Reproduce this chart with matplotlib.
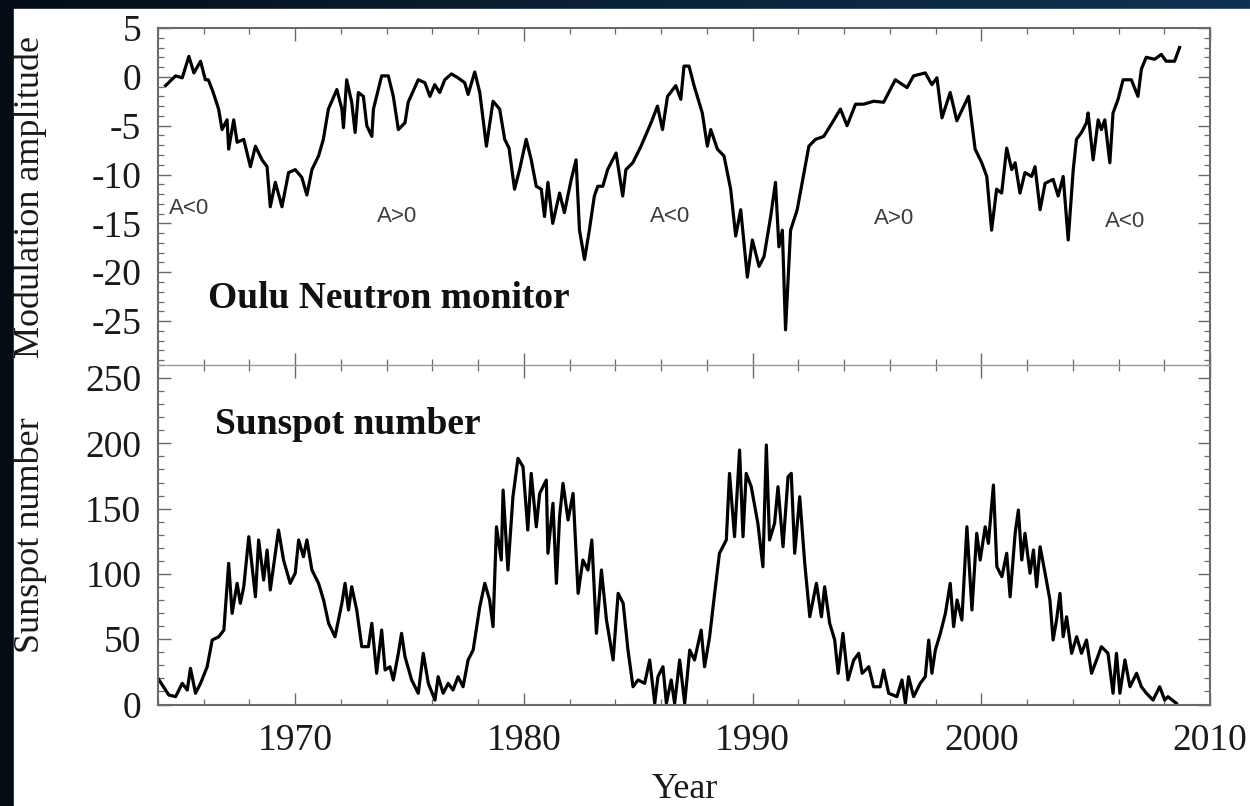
#!/usr/bin/env python3
import numpy as np
import matplotlib
matplotlib.use("Agg")
import matplotlib.pyplot as plt
from matplotlib.patches import Rectangle
from matplotlib.ticker import MultipleLocator

# Oulu neutron monitor modulation amplitude (%)
mod_year = [
    1964.33, 1964.77, 1965.06, 1965.35, 1965.57, 1965.86, 1966.07, 1966.2, 1966.4,
    1966.65, 1966.8, 1967.02, 1967.09, 1967.31, 1967.46, 1967.75, 1968.04, 1968.26,
    1968.55, 1968.77, 1968.91, 1969.13, 1969.42, 1969.71, 1970.0, 1970.29, 1970.51,
    1970.73, 1971.02, 1971.23, 1971.45, 1971.82, 1972.04, 1972.11, 1972.25, 1972.47,
    1972.62, 1972.76, 1972.98, 1973.13, 1973.35, 1973.42, 1973.78, 1974.07, 1974.29,
    1974.51, 1974.8, 1974.94, 1975.38, 1975.67, 1975.89, 1976.1, 1976.32, 1976.54,
    1976.83, 1977.12, 1977.41, 1977.56, 1977.85, 1978.07, 1978.36, 1978.65, 1978.94,
    1979.16, 1979.35, 1979.59, 1979.81, 1980.1, 1980.32, 1980.54, 1980.76, 1980.9,
    1981.05, 1981.26, 1981.56, 1981.77, 1982.07, 1982.28, 1982.43, 1982.65, 1982.86,
    1983.08, 1983.23, 1983.45, 1983.66, 1984.03, 1984.32, 1984.46, 1984.76, 1985.12,
    1985.56, 1985.84, 1986.06, 1986.28, 1986.64, 1986.86, 1987.0, 1987.22, 1987.44,
    1987.8, 1988.02, 1988.17, 1988.46, 1988.75, 1989.04, 1989.26, 1989.48, 1989.77,
    1989.99, 1990.28, 1990.5, 1990.79, 1991.0, 1991.15, 1991.3, 1991.44, 1991.66,
    1991.95, 1992.17, 1992.46, 1992.75, 1993.11, 1993.48, 1993.84, 1994.13, 1994.5,
    1994.86, 1995.29, 1995.73, 1996.24, 1996.75, 1997.04, 1997.55, 1997.84, 1998.06,
    1998.28, 1998.64, 1998.93, 1999.44, 1999.73, 2000.02, 2000.24, 2000.45, 2000.67,
    2000.89, 2001.11, 2001.33, 2001.48, 2001.69, 2001.91, 2002.2, 2002.35, 2002.57,
    2002.79, 2003.14, 2003.36, 2003.58, 2003.8, 2004.02, 2004.16, 2004.38, 2004.6,
    2004.67, 2004.89, 2005.11, 2005.25, 2005.4, 2005.62, 2005.76, 2005.98, 2006.2,
    2006.56, 2006.85, 2007.0, 2007.21, 2007.58, 2007.87, 2008.08, 2008.45, 2008.67,
]
mod_val = [
    -0.9, 0.1, -0.1, 2.1, 0.4, 1.6, -0.3, -0.3, -1.5,
    -3.3, -5.4, -4.4, -7.4, -4.4, -6.7, -6.4, -9.2, -7.1,
    -8.5, -9.2, -13.3, -10.8, -13.3, -9.8, -9.5, -10.3, -12.1,
    -9.5, -8.1, -6.4, -3.3, -1.3, -3.3, -5.2, -0.3, -2.6,
    -5.7, -1.6, -2.0, -5.0, -6.1, -3.3, 0.1, 0.1, -2.0,
    -5.4, -4.7, -2.6, -0.3, -0.6, -2.0, -0.8, -1.6, -0.3,
    0.3, -0.1, -0.6, -1.8, 0.5, -1.6, -7.1, -2.5, -3.3,
    -6.4, -7.3, -11.5, -9.5, -6.4, -8.5, -11.2, -11.5, -14.3,
    -10.8, -15.0, -11.9, -13.9, -10.5, -8.5, -15.7, -18.7, -15.7,
    -12.2, -11.2, -11.2, -9.5, -7.8, -12.2, -9.5, -8.8, -7.1,
    -4.7, -3.0, -5.4, -2.0, -0.9, -2.3, 1.1, 1.1, -0.9,
    -3.7, -7.1, -5.4, -7.4, -8.1, -11.5, -16.3, -13.6, -20.5,
    -16.7, -19.4, -18.4, -14.3, -10.8, -17.4, -15.7, -25.9, -15.7,
    -13.6, -10.8, -7.1, -6.4, -6.1, -4.7, -3.3, -5.0, -2.8,
    -2.8, -2.5, -2.6, -0.3, -1.1, 0.1, 0.4, -0.8, -0.1,
    -4.2, -1.6, -4.5, -2.0, -7.4, -8.8, -10.2, -15.7, -11.5,
    -11.9, -7.3, -9.5, -8.8, -11.9, -9.8, -10.2, -9.2, -13.6,
    -10.9, -10.5, -12.2, -10.2, -16.7, -9.5, -6.4, -5.7, -4.7,
    -3.7, -8.5, -4.4, -5.4, -4.4, -8.8, -3.7, -2.3, -0.3,
    -0.3, -2.0, 0.8, 2.0, 1.8, 2.3, 1.6, 1.6, 3.0,
]

# monthly sunspot number
ssn_year = [
    1964.0, 1964.47, 1964.77, 1965.06, 1965.28, 1965.42, 1965.64, 1965.86, 1966.15,
    1966.37, 1966.66, 1966.88, 1967.09, 1967.24, 1967.46, 1967.6, 1967.75, 1967.97,
    1968.26, 1968.4, 1968.62, 1968.77, 1968.91, 1969.13, 1969.27, 1969.49, 1969.78,
    1970.0, 1970.15, 1970.36, 1970.51, 1970.73, 1971.02, 1971.24, 1971.46, 1971.74,
    1972.04, 1972.18, 1972.33, 1972.47, 1972.69, 1972.91, 1973.2, 1973.35, 1973.56,
    1973.78, 1973.93, 1974.14, 1974.29, 1974.51, 1974.65, 1974.8, 1975.09, 1975.38,
    1975.6, 1975.82, 1976.11, 1976.25, 1976.47, 1976.69, 1976.9, 1977.12, 1977.34,
    1977.56, 1977.78, 1978.07, 1978.29, 1978.5, 1978.65, 1978.8, 1979.01, 1979.09,
    1979.3, 1979.52, 1979.74, 1979.96, 1980.17, 1980.32, 1980.54, 1980.69, 1980.98,
    1981.05, 1981.27, 1981.42, 1981.56, 1981.71, 1981.93, 1982.15, 1982.37, 1982.58,
    1982.8, 1982.97, 1983.17, 1983.39, 1983.61, 1983.9, 1984.12, 1984.34, 1984.55,
    1984.77, 1984.99, 1985.28, 1985.5, 1985.72, 1985.86, 1986.08, 1986.23, 1986.44,
    1986.59, 1986.81, 1987.03, 1987.25, 1987.46, 1987.75, 1987.9, 1988.12, 1988.34,
    1988.55, 1988.85, 1988.99, 1989.21, 1989.43, 1989.58, 1989.72, 1989.94, 1990.23,
    1990.45, 1990.6, 1990.74, 1990.96, 1991.11, 1991.33, 1991.55, 1991.69, 1991.84,
    1992.06, 1992.28, 1992.5, 1992.79, 1993.01, 1993.15, 1993.37, 1993.59, 1993.74,
    1993.95, 1994.17, 1994.42, 1994.64, 1994.79, 1995.08, 1995.29, 1995.58, 1995.73,
    1995.95, 1996.31, 1996.53, 1996.68, 1996.82, 1997.04, 1997.33, 1997.55, 1997.7,
    1997.84, 1997.99, 1998.21, 1998.43, 1998.64, 1998.79, 1998.94, 1999.15, 1999.37,
    1999.59, 1999.8, 1999.95, 2000.17, 2000.31, 2000.53, 2000.68, 2000.9, 2001.11,
    2001.26, 2001.48, 2001.62, 2001.77, 2001.91, 2002.13, 2002.28, 2002.42, 2002.57,
    2002.79, 2003.0, 2003.14, 2003.29, 2003.44, 2003.58, 2003.73, 2003.95, 2004.17,
    2004.38, 2004.6, 2004.82, 2005.04, 2005.25, 2005.54, 2005.76, 2005.91, 2006.06,
    2006.28, 2006.5, 2006.79, 2007.0, 2007.22, 2007.51, 2007.8, 2008.02, 2008.16,
    2008.53,
]
ssn_val = [
    20.0, 7.3, 6.0, 16.2, 11.1, 27.7, 8.6, 16.2, 28.9,
    49.4, 51.9, 57.0, 108.1, 69.8, 92.8, 77.5, 90.2, 128.5,
    82.5, 126.0, 95.3, 118.3, 87.7, 115.8, 133.6, 110.6, 92.8,
    100.5, 126.0, 113.2, 126.0, 103.0, 92.8, 80.0, 62.2, 51.9,
    77.5, 92.8, 72.4, 90.2, 72.4, 44.3, 44.3, 62.2, 23.9,
    57.0, 26.4, 28.9, 18.8, 39.2, 54.5, 36.6, 18.8, 8.6,
    39.2, 16.2, 3.4, 21.3, 8.6, 16.2, 11.1, 21.3, 13.6,
    34.1, 41.7, 74.9, 92.8, 80.0, 59.6, 136.1, 110.6, 164.2,
    103.0, 159.0, 188.5, 182.1, 133.6, 177.0, 136.1, 161.7, 171.9,
    115.8, 154.1, 92.8, 143.8, 169.4, 141.3, 161.7, 85.1, 110.6,
    103.0, 126.0, 54.5, 103.0, 64.7, 34.1, 85.1, 77.5, 41.7,
    13.6, 18.8, 16.2, 34.1, 0.9, 21.3, 28.9, 0.9, 18.8,
    0.9, 34.1, 0.9, 41.7, 34.1, 57.0, 28.9, 51.9, 85.1,
    115.8, 126.0, 177.0, 128.5, 194.9, 128.5, 177.0, 166.8, 138.7,
    105.5, 198.7, 126.0, 138.7, 166.8, 120.8, 174.4, 177.0, 115.8,
    159.1, 108.1, 67.2, 92.8, 67.2, 90.2, 62.2, 49.4, 23.9,
    54.5, 18.8, 34.0, 39.2, 23.9, 28.9, 13.6, 13.6, 26.4,
    8.6, 6.0, 18.8, 0.9, 21.3, 6.0, 16.2, 21.3, 49.4,
    23.9, 41.7, 54.5, 69.8, 92.8, 59.6, 80.0, 64.7, 136.1,
    72.4, 131.1, 110.6, 136.1, 123.4, 168.1, 105.5, 97.9, 115.8,
    82.5, 131.1, 148.9, 110.6, 131.1, 100.5, 118.3, 90.2, 120.8,
    100.5, 80.0, 49.4, 64.7, 85.1, 51.9, 67.2, 39.2, 51.9,
    39.2, 49.4, 23.9, 34.1, 44.3, 39.2, 8.6, 39.2, 8.6,
    34.1, 13.6, 23.9, 13.6, 8.6, 3.4, 13.6, 3.4, 6.0,
    0.9,
]

# solar magnetic polarity epochs
pol_labels = ["A<0", "A>0", "A<0", "A>0", "A<0"]
pol_year = [1964.47, 1973.56, 1985.5, 1995.32, 2005.39]
pol_val = [-14.0, -14.9, -14.9, -15.05, -15.4]

mod_yticks = [5, 0, -5, -10, -15, -20, -25]
ssn_yticks = [0, 50, 100, 150, 200, 250]
year_ticks = [1970, 1980, 1990, 2000, 2010]

W, H = 1250, 806
SERIF = ["Liberation Serif", "DejaVu Serif"]
SPINE = "#6a6a6a"


def style_axes(ax):
    for side in ("left", "right", "top", "bottom"):
        ax.spines[side].set_color(SPINE)
        ax.spines[side].set_linewidth(1.5)
    ax.tick_params(which="both", direction="in", top=True, right=True,
                   color=SPINE, labelcolor="#1a1a1a", labelsize=27)
    ax.tick_params(which="major", length=9, width=1.0)
    ax.tick_params(which="minor", length=4, width=0.9)
    ax.tick_params(axis="y", pad=12)
    ax.tick_params(axis="x", pad=14)
    for lab in ax.get_xticklabels() + ax.get_yticklabels():
        lab.set_family(SERIF)
    ax.xaxis.set_minor_locator(MultipleLocator(2))


def main():
    plt.rcParams["axes.unicode_minus"] = False
    fig = plt.figure(figsize=(W / 100, H / 100), dpi=100)

    # slide background: dark blue border around the white page
    bg = fig.add_axes([0, 0, 1, 1], zorder=-10)
    grad = np.linspace(0, 1, 256).reshape(1, -1)
    cmap = matplotlib.colors.LinearSegmentedColormap.from_list(
        "slide", ["#040d16", "#0a2238", "#0f3150"])
    bg.imshow(grad, extent=[0, 1, 0, 1], aspect="auto", cmap=cmap)
    bg.add_patch(Rectangle((14 / W, 0), 1, 1 - 9 / H, color="white"))
    bg.set_xlim(0, 1)
    bg.set_ylim(0, 1)
    bg.axis("off")

    left = 158 / W
    width = (1210 - 158) / W
    mid = 1 - 365 / H
    top = 1 - 28 / H
    bot = 1 - 704.5 / H

    ax1 = fig.add_axes([left, mid, width, top - mid])
    ax2 = fig.add_axes([left, bot, width, mid - bot], sharex=ax1)

    ax1.plot(mod_year, mod_val, color="black", lw=2.3)
    ax1.set_ylim(-29.5, 5)
    ax1.set_yticks(mod_yticks)
    ax1.yaxis.set_minor_locator(MultipleLocator(1))

    ax2.plot(ssn_year, ssn_val, color="black", lw=2.3)
    ax2.set_ylim(0, 260)
    ax2.set_yticks(ssn_yticks)
    ax2.yaxis.set_minor_locator(MultipleLocator(10))

    ax2.set_xlim(1964, 2009.9)
    ax2.set_xticks(year_ticks)

    style_axes(ax1)
    style_axes(ax2)
    ax1.tick_params(labelbottom=False)
    ax1.spines["bottom"].set_visible(False)
    ax2.spines["top"].set_color("#9a9a9a")
    ax2.spines["top"].set_linewidth(1.0)

    for lab, x, y in zip(pol_labels, pol_year, pol_val):
        ax1.text(x, y, lab, ha="left", va="baseline", fontsize=16,
                 color="#3c3c3c", family=["Liberation Sans", "DejaVu Sans"])

    ax1.text(0.0475, 0.169, "Oulu Neutron monitor", transform=ax1.transAxes,
             ha="left", va="baseline", fontsize=27, fontweight="bold",
             family=SERIF, color="#111111")
    ax2.text(0.054, 0.797, "Sunspot number", transform=ax2.transAxes,
             ha="left", va="baseline", fontsize=27, fontweight="bold",
             family=SERIF, color="#111111")

    fig.text(30 / W, 1 - 196.5 / H, "Modulation amplitude", rotation=90,
             ha="center", va="center", fontsize=26, family=SERIF, color="#1a1a1a")
    fig.text(30 / W, 1 - 535 / H, "Sunspot number", rotation=90,
             ha="center", va="center", fontsize=26, family=SERIF, color="#1a1a1a")
    fig.text(685 / W, 1 - 798 / H, "Year", ha="center", va="baseline",
             fontsize=26, family=SERIF, color="#1a1a1a")

    fig.savefig("out.png", dpi=100)
    plt.close(fig)


if __name__ == "__main__":
    main()
